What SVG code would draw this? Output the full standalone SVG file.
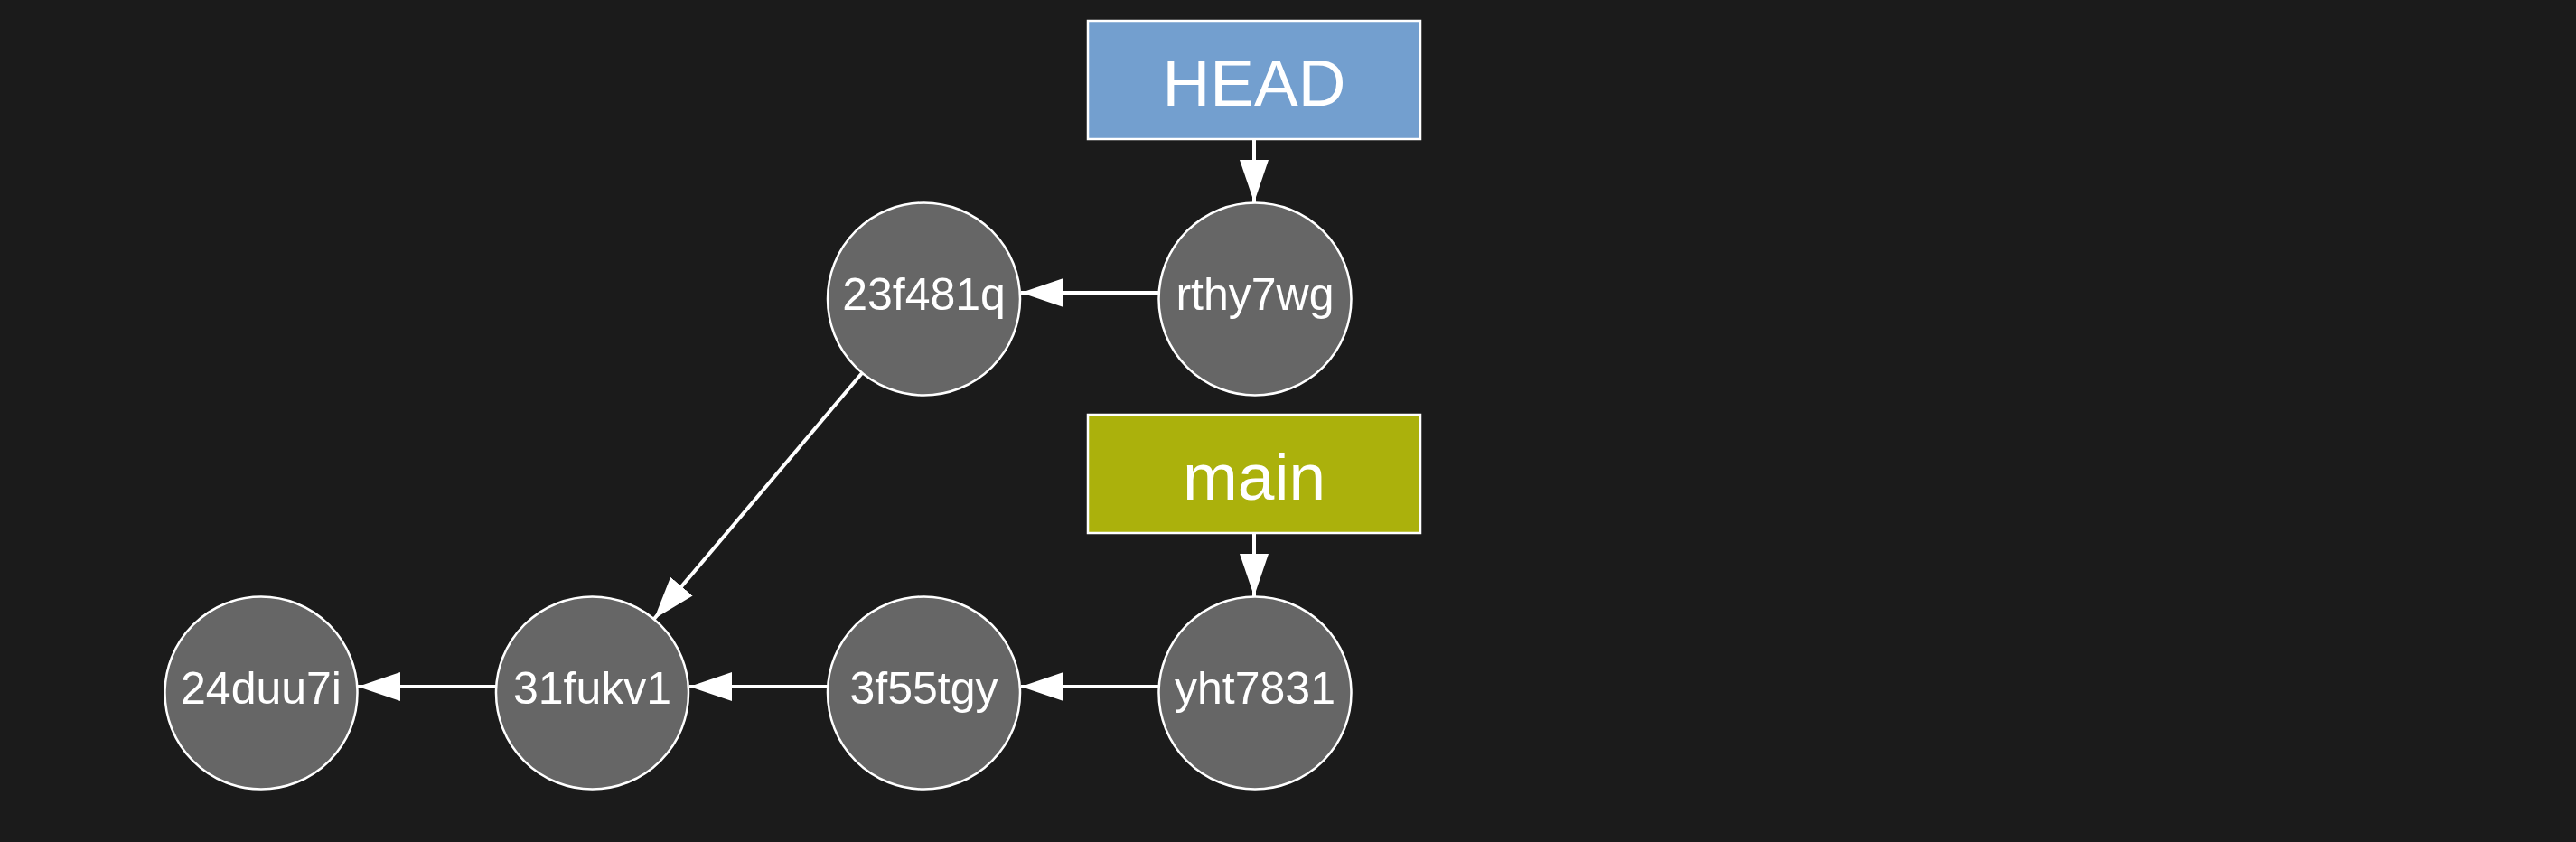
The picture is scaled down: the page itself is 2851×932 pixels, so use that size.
<svg xmlns="http://www.w3.org/2000/svg" width="2851" height="932" viewBox="0 0 2851 932">
<defs>
<marker id="arr" markerWidth="47" markerHeight="33" refX="47" refY="16.5" orient="auto" markerUnits="userSpaceOnUse">
<path d="M0,0.5 L47,16.5 L0,32.5 Z" fill="#ffffff"/>
</marker>
<style>
.commit circle{fill:#666666;stroke:#ffffff;stroke-width:2.5}
.commit text{font-family:"Liberation Sans",Arial,sans-serif;font-size:50px;fill:#ffffff;text-anchor:middle}
.ref text{font-family:"Liberation Sans",Arial,sans-serif;font-size:73px;fill:#ffffff;text-anchor:middle}
.ref rect{stroke:#ffffff;stroke-width:2.5}
.edge{stroke:#ffffff;stroke-width:4;fill:none;marker-end:url(#arr)}
</style>
</defs>
<rect x="0" y="0" width="2851" height="932" fill="#1b1b1b"/>
<g id="connectors">
<line class="edge" x1="1388" y1="155" x2="1388" y2="224"/>
<line class="edge" x1="1388" y1="591" x2="1388" y2="660"/>
<line class="edge" x1="1283" y1="324" x2="1130" y2="324"/>
<line class="edge" x1="1283" y1="760" x2="1130" y2="760"/>
<line class="edge" x1="916" y1="760" x2="763" y2="760"/>
<line class="edge" x1="549" y1="760" x2="396" y2="760"/>
<line class="edge" x1="954" y1="413" x2="724" y2="685"/>
</g>
<g id="HEAD" class="ref">
<rect x="1204" y="23" width="368" height="131" fill="#739fcf"/>
<text x="1388" y="117">HEAD</text>
</g>
<g id="main" class="ref">
<rect x="1204" y="459" width="368" height="131" fill="#abb10c"/>
<text x="1388" y="553">main</text>
</g>
<g id="rthy7wg" class="commit">
<circle cx="1389" cy="331" r="106.5"/>
<text x="1389" y="343">rthy7wg</text>
</g>
<g id="n23f481q" class="commit">
<circle cx="1022.5" cy="331" r="106.5"/>
<text x="1022.5" y="343">23f481q</text>
</g>
<g id="yht7831" class="commit">
<circle cx="1389" cy="767" r="106.5"/>
<text x="1389" y="779">yht7831</text>
</g>
<g id="n3f55tgy" class="commit">
<circle cx="1022.5" cy="767" r="106.5"/>
<text x="1022.5" y="779">3f55tgy</text>
</g>
<g id="n31fukv1" class="commit">
<circle cx="655.5" cy="767" r="106.5"/>
<text x="655.5" y="779">31fukv1</text>
</g>
<g id="n24duu7i" class="commit">
<circle cx="289" cy="767" r="106.5"/>
<text x="289" y="779">24duu7i</text>
</g>
</svg>
